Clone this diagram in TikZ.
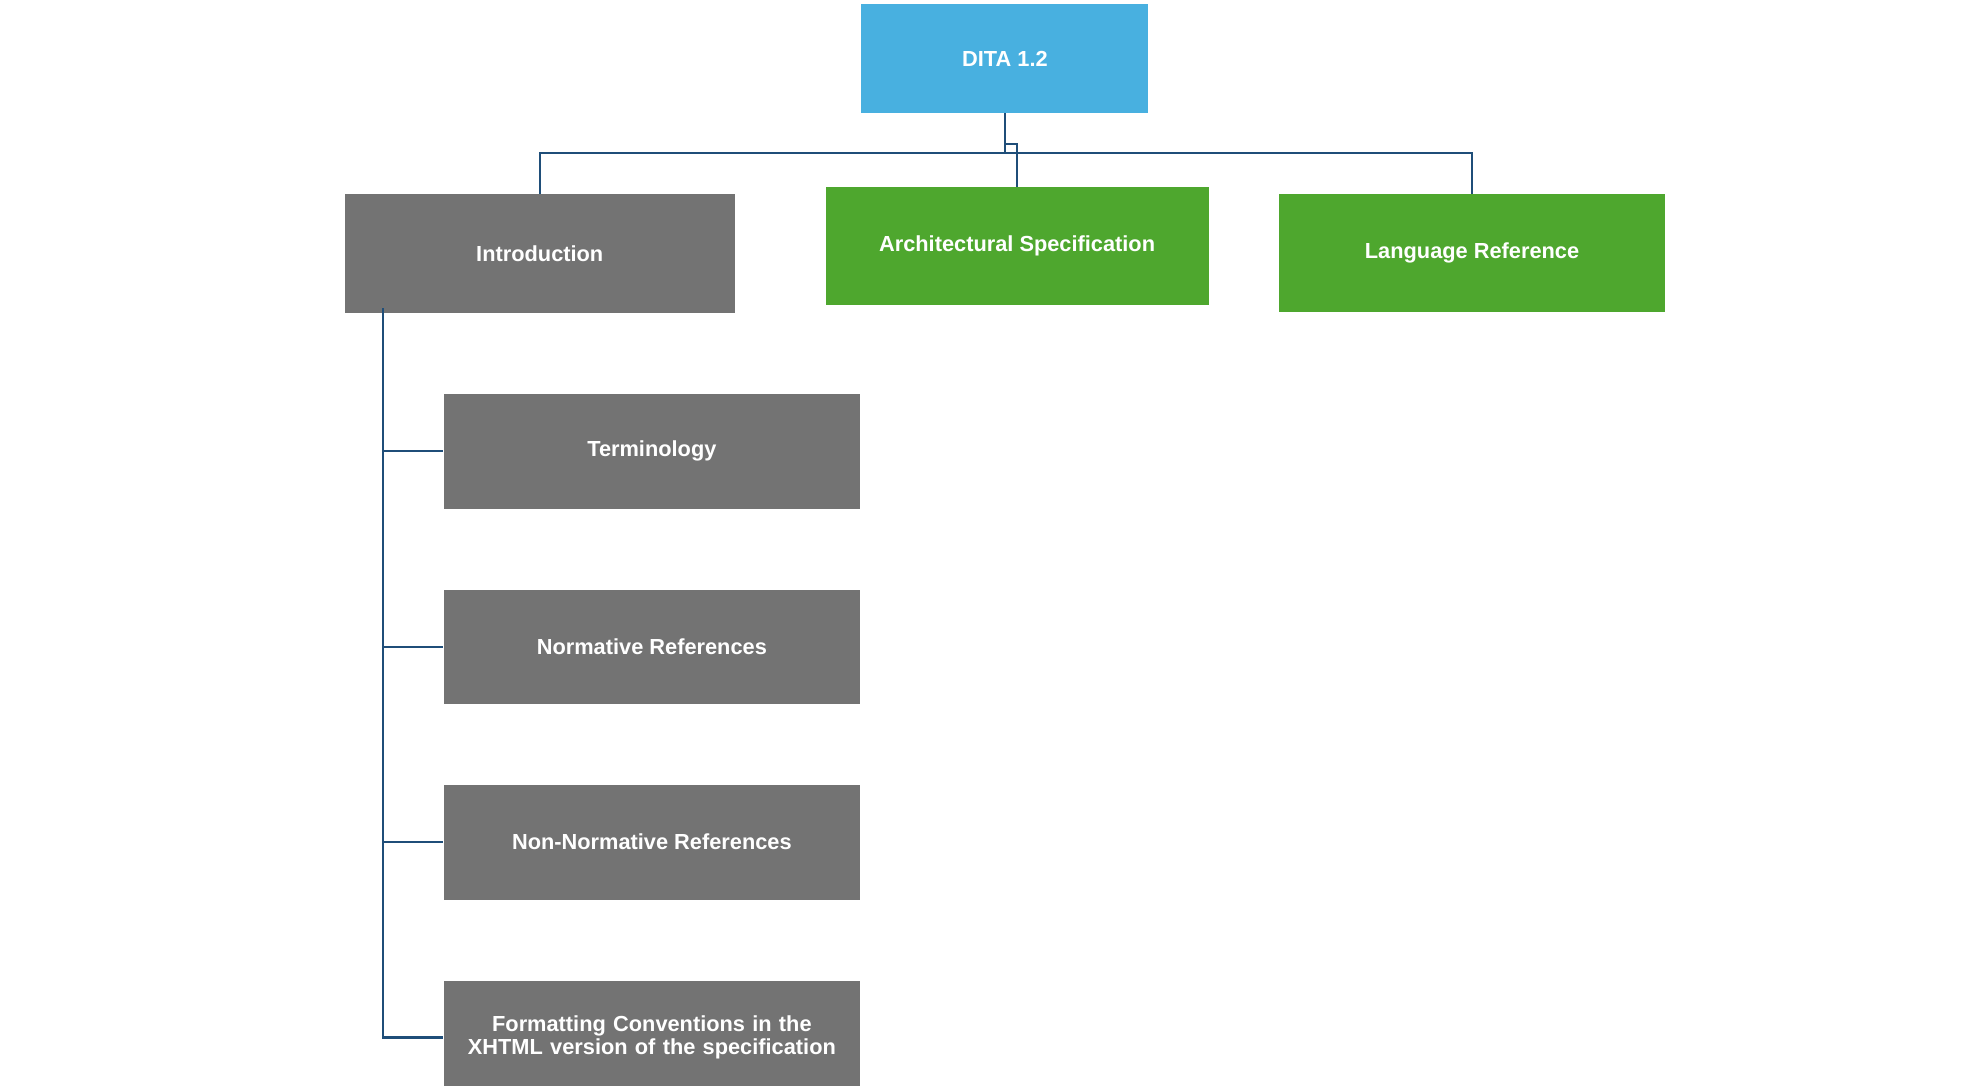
\documentclass[tikz,border=0pt]{standalone}
\usepackage{fontspec}
\setmainfont{Liberation Sans}
\begin{document}
\definecolor{blu}{HTML}{48B0E0}
\definecolor{gry}{HTML}{737373}
\definecolor{grn}{HTML}{4EA72E}
\definecolor{lnk}{HTML}{1F4E79}
\begin{tikzpicture}[x=1pt,y=-1pt,
 box/.style={draw=none,text=white,font=\fontsize{17}{18}\selectfont\bfseries,align=center,inner sep=0pt,anchor=north west},
 con/.style={draw=lnk,line width=1.8pt}]
\useasboundingbox (0,0) rectangle (1549,847);
\node[box,fill=blu,minimum width=224,minimum height=85] (dita) at (672,3) {DITA 1.2};
\node[box,fill=gry,minimum width=304,minimum height=93] (intro) at (269,151) {Introduction};
\node[box,fill=grn,minimum width=299,minimum height=92] (arch) at (644,146) {Architectural Specification};
\node[box,fill=grn,minimum width=301,minimum height=92] (lang) at (998,151) {Language Reference};
\node[box,fill=gry,minimum width=325,minimum height=90] (term) at (346,307) {Terminology};
\node[box,fill=gry,minimum width=325,minimum height=89] (norm) at (346,460) {Normative References};
\node[box,fill=gry,minimum width=325,minimum height=90] (nonn) at (346,612) {Non-Normative References};
\node[box,fill=gry,minimum width=325,minimum height=89,text width=300] (form) at (346,765) {Formatting Conventions in the XHTML version of the specification};
\draw[con] (dita.south) -- ++(0,31) -| (intro.north);
\draw[con] (dita.south) -- ++(0,31) -| (lang.north);
\draw[con] (dita.south) -- ++(0,24) -| (arch.north);
\coordinate (ib) at ([xshift=30]intro.south west);
\draw[con] ([yshift=4]ib) |- (form.west);
\draw[con] (ib|-term.west) -- (term.west);
\draw[con] (ib|-norm.west) -- (norm.west);
\draw[con] (ib|-nonn.west) -- (nonn.west);
\end{tikzpicture}
\end{document}
